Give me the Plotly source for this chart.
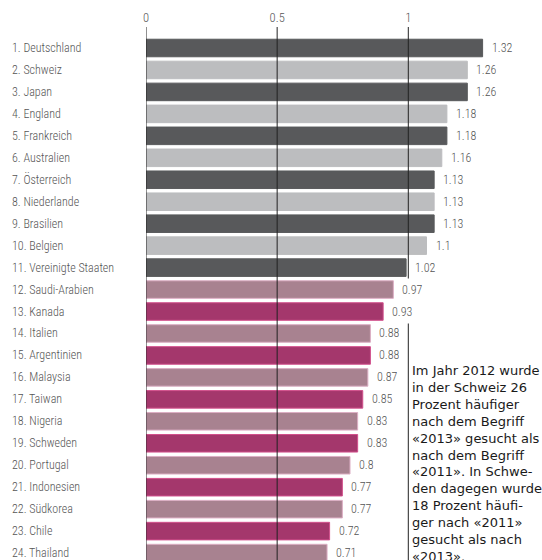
import plotly.graph_objects as go

countries = ["Deutschland", "Schweiz", "Japan", "England", "Frankreich", "Australien",
             "Österreich", "Niederlande", "Brasilien", "Belgien", "Vereinigte Staaten",
             "Saudi-Arabien", "Kanada", "Italien", "Argentinien", "Malaysia", "Taiwan",
             "Nigeria", "Schweden", "Portugal", "Indonesien", "Südkorea", "Chile", "Thailand"]
values = [1.32, 1.26, 1.26, 1.18, 1.18, 1.16, 1.13, 1.13, 1.13, 1.1, 1.02,
          0.97, 0.93, 0.88, 0.88, 0.87, 0.85, 0.83, 0.83, 0.8, 0.77, 0.77, 0.72, 0.71]
value_labels = ["1.32", "1.26", "1.26", "1.18", "1.18", "1.16", "1.13", "1.13", "1.13", "1.1", "1.02",
                "0.97", "0.93", "0.88", "0.88", "0.87", "0.85", "0.83", "0.83", "0.8", "0.77", "0.77", "0.72", "0.71"]
tick_labels = ["0", "0.5", "1"]
note = ("Im Jahr 2012 wurde<br>in der Schweiz 26<br>Prozent häufiger<br>nach dem Begriff<br>"
        "«2013» gesucht als<br>nach dem Begriff<br>«2011». In Schwe-<br>den dagegen wurde<br>"
        "18 Prozent häufi-<br>ger nach «2011»<br>gesucht als nach<br>«2013».")

# layout constants (pixels)
W, H = 542, 560
ML, MT = 146, 27
PW = W - ML
PH = H - MT
BAR_PX = 255.0          # pixels per unit for bars
GRID_PX = 262.3         # pixels per unit for the printed axis ticks
XMAX = PW / BAR_PX
tick_pos = [float(t) * GRID_PX / BAR_PX for t in tick_labels]

labels = [f"{i+1}. {c}" for i, c in enumerate(countries)]

fill, edge = [], []
for i, v in enumerate(values):
    odd = (i % 2 == 0)
    if v > 1:
        fill.append("#58595b" if odd else "#bcbdbf")
        edge.append("#58595b" if odd else "#bcbdbf")
    else:
        fill.append("#a4376c" if odd else "#a88290")
        edge.append("#d2508c" if odd else "#dcaec4")

FONT = "Liberation Sans Narrow, Arial Narrow, Roboto Condensed, sans-serif"

fig = go.Figure()
fig.add_trace(go.Bar(
    x=values, y=labels, orientation="h",
    marker=dict(color=fill, line=dict(color=edge, width=1)),
    width=0.8, hoverinfo="skip", showlegend=False,
))

n = len(values)
pitch = 21.96
first_row_px = 48
top_units = (first_row_px - MT) / pitch
bottom_units = (H - (first_row_px + (n - 1) * pitch)) / pitch
fig.update_layout(
    width=W, height=H,
    margin=dict(l=ML, r=0, t=MT, b=0, pad=0),
    plot_bgcolor="white", paper_bgcolor="white",
    xaxis=dict(range=[0, XMAX], side="top", showgrid=False, zeroline=False,
               showline=False, ticks="", tickvals=tick_pos, ticktext=tick_labels,
               tickfont=dict(family=FONT, size=12.5, color="#555555", weight=300),
               ticklabelstandoff=2),
    yaxis=dict(range=[n - 1 + bottom_units, -top_units], showgrid=False,
               zeroline=False, showline=False, showticklabels=False, ticks=""),
    bargap=0.2,
)

shapes = []
for t in [0.0] + tick_pos[1:]:
    shapes.append(dict(type="line", xref="x", yref="paper", x0=t, x1=t, y0=0, y1=1,
                       line=dict(color="#222222", width=1), layer="above"))
fig.update_layout(shapes=shapes)

anns = []
for lab, v, vl in zip(labels, values, value_labels):
    anns.append(dict(x=(10 - ML) / PW, xref="paper", y=lab, yref="y", text=lab,
                     xanchor="left", yanchor="middle", showarrow=False,
                     font=dict(family=FONT, size=12, color="#555555", weight=300)))
    anns.append(dict(x=v, xref="x", y=lab, yref="y", text=vl,
                     xanchor="left", yanchor="middle", showarrow=False,
                     xshift=5, borderpad=3, height=16, valign="middle",
                     bgcolor="white",
                     font=dict(family=FONT, size=12, color="#555555", weight=300)))
anns.append(dict(x=(411 - ML) / PW, xref="paper", y=(H - 361.5) / PH, yref="paper",
                 text=note, xanchor="left", yanchor="top", align="left",
                 showarrow=False, borderpad=0,
                 font=dict(family="DejaVu Sans, sans-serif", size=13, color="#1a1a1a")))
fig.update_layout(annotations=anns)

fig.write_html("out.html")
